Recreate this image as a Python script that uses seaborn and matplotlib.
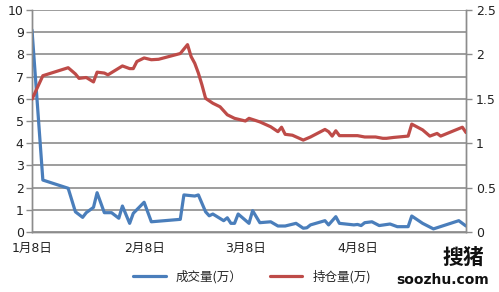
import matplotlib
matplotlib.use("Agg")
import matplotlib.pyplot as plt
import seaborn as sns
import pandas as pd
from matplotlib.lines import Line2D

# ---- data ----
vol_dates = ["2013-01-08", "2013-01-11", "2013-01-18", "2013-01-20", "2013-01-22", "2013-01-23",
             "2013-01-25", "2013-01-26", "2013-01-28", "2013-01-30", "2013-02-01", "2013-02-02",
             "2013-02-04", "2013-02-05", "2013-02-08", "2013-02-10", "2013-02-18", "2013-02-19",
             "2013-02-22", "2013-02-23", "2013-02-25", "2013-02-26", "2013-02-27", "2013-03-02",
             "2013-03-03", "2013-03-04", "2013-03-05", "2013-03-06", "2013-03-09", "2013-03-10",
             "2013-03-12", "2013-03-15", "2013-03-17", "2013-03-19", "2013-03-22", "2013-03-24",
             "2013-03-25", "2013-03-26", "2013-03-30", "2013-03-31", "2013-04-02", "2013-04-03",
             "2013-04-07", "2013-04-08", "2013-04-09", "2013-04-10", "2013-04-12", "2013-04-14",
             "2013-04-17", "2013-04-19", "2013-04-22", "2013-04-23", "2013-04-26", "2013-04-29",
             "2013-05-06", "2013-05-08"]
volume = [9.1, 2.34, 1.97, 0.91, 0.66, 0.87, 1.11, 1.77, 0.87, 0.87,
          0.62, 1.17, 0.39, 0.84, 1.34, 0.46, 0.57, 1.67, 1.62, 1.67,
          0.91, 0.73, 0.81, 0.51, 0.64, 0.39, 0.39, 0.81, 0.39, 0.96,
          0.42, 0.46, 0.27, 0.27, 0.39, 0.17, 0.19, 0.32, 0.51, 0.32,
          0.69, 0.39, 0.32, 0.34, 0.29, 0.42, 0.46, 0.29, 0.36, 0.24,
          0.24, 0.72, 0.39, 0.14, 0.51, 0.27]

oi_dates = ["2013-01-08", "2013-01-11", "2013-01-18", "2013-01-20", "2013-01-21", "2013-01-23",
            "2013-01-25", "2013-01-26", "2013-01-28", "2013-01-29", "2013-02-02", "2013-02-04",
            "2013-02-05", "2013-02-06", "2013-02-08", "2013-02-10", "2013-02-12", "2013-02-18",
            "2013-02-20", "2013-02-21", "2013-02-22", "2013-02-23", "2013-02-24", "2013-02-25",
            "2013-02-27", "2013-03-01", "2013-03-03", "2013-03-05", "2013-03-08", "2013-03-09",
            "2013-03-12", "2013-03-15", "2013-03-17", "2013-03-18", "2013-03-19", "2013-03-21",
            "2013-03-24", "2013-03-26", "2013-03-30", "2013-03-31", "2013-04-01", "2013-04-02",
            "2013-04-03", "2013-04-08", "2013-04-10", "2013-04-13", "2013-04-15", "2013-04-16",
            "2013-04-18", "2013-04-22", "2013-04-23", "2013-04-26", "2013-04-28", "2013-04-30",
            "2013-05-01", "2013-05-07", "2013-05-08"]
open_interest = [1.495, 1.76, 1.85, 1.78, 1.73, 1.74, 1.69, 1.80, 1.79, 1.77,
                 1.87, 1.84, 1.84, 1.92, 1.96, 1.94, 1.945, 2.01, 2.11, 1.975,
                 1.90, 1.79, 1.655, 1.505, 1.45, 1.41, 1.32, 1.28, 1.25, 1.28,
                 1.24, 1.185, 1.13, 1.18, 1.10, 1.09, 1.035, 1.07, 1.155, 1.13,
                 1.08, 1.14, 1.085, 1.085, 1.07, 1.07, 1.055, 1.055, 1.065, 1.08,
                 1.215, 1.15, 1.08, 1.11, 1.08, 1.18, 1.12]

x_tick_dates = ["2013-01-08", "2013-02-08", "2013-03-08", "2013-04-08"]
x_tick_labels = ["1月8日", "2月8日", "3月8日", "4月8日"]
left_ticks = list(range(0, 11))
right_ticks = [0, 0.5, 1, 1.5, 2, 2.5]
right_labels = ["0", "0.5", "1", "1.5", "2", "2.5"]
series_names = ["成交量(万）", "持仓量(万)"]

BLUE = "#4A7EBB"
RED = "#BE4B48"
GRID = "#8C8C8C"

sns.set_theme(style="white")
plt.rcParams['font.family'] = ['DejaVu Sans', 'Noto Sans CJK SC']

fig = plt.figure(figsize=(4.99, 2.92), dpi=100)
ax = fig.add_axes([32 / 499, 1 - 232 / 292, (466 - 32) / 499, (232 - 10) / 292])

df_v = pd.DataFrame({"date": pd.to_datetime(vol_dates), "v": volume})
df_o = pd.DataFrame({"date": pd.to_datetime(oi_dates), "v": open_interest})

sns.lineplot(data=df_v, x="date", y="v", ax=ax, color=BLUE, linewidth=2.3, zorder=3)
ax2 = ax.twinx()
sns.lineplot(data=df_o, x="date", y="v", ax=ax2, color=RED, linewidth=2.3, zorder=3)

ax.set_xlim(pd.Timestamp("2013-01-08"), pd.Timestamp("2013-05-08"))
ax.set_ylim(0, 10)
ax2.set_ylim(0, 2.5)

ax.set_yticks(left_ticks)
ax.set_yticklabels([str(t) for t in left_ticks])
ax2.set_yticks(right_ticks)
ax2.set_yticklabels(right_labels)
ax.set_xticks(pd.to_datetime(x_tick_dates))
ax.set_xticklabels(x_tick_labels, family=['DejaVu Sans', 'Noto Sans CJK SC'])

ax.yaxis.grid(True, color=GRID, linewidth=1.2)
ax.set_axisbelow(True)
for a in (ax, ax2):
    a.set_xlabel("")
    a.set_ylabel("")
    a.spines['top'].set_visible(False)
    for s in ('left', 'right', 'bottom'):
        a.spines[s].set_color(GRID)
        a.spines[s].set_linewidth(1.0)
ax.tick_params(axis='both', labelsize=9, colors='#222222', length=4, width=1, direction='out')
ax.tick_params(axis='x', color=GRID, pad=3)
ax.tick_params(axis='y', color=GRID, pad=2)
ax2.tick_params(axis='y', labelsize=9, colors='#222222', color=GRID, length=4, width=1, pad=3)

handles = [Line2D([0], [0], color=BLUE, linewidth=2.3),
           Line2D([0], [0], color=RED, linewidth=2.3)]
fig.legend(handles, series_names, loc='center', bbox_to_anchor=(252 / 499, 1 - 277 / 292),
           ncol=2, frameon=False, fontsize=9, handlelength=2.6, columnspacing=2.2,
           prop={'family': ['Noto Sans CJK SC', 'DejaVu Sans'], 'size': 9})

fig.text(463 / 499, 1 - 257 / 292, "搜猪", family=['Noto Sans CJK SC'], fontsize=15,
         fontweight='bold', ha='center', va='center', color='#111111')
fig.text(443 / 499, 1 - 280 / 292, "soozhu.com", family=['DejaVu Sans'], fontsize=10,
         fontweight='bold', ha='center', va='center', color='#111111')

fig.savefig("out.png", dpi=100)
